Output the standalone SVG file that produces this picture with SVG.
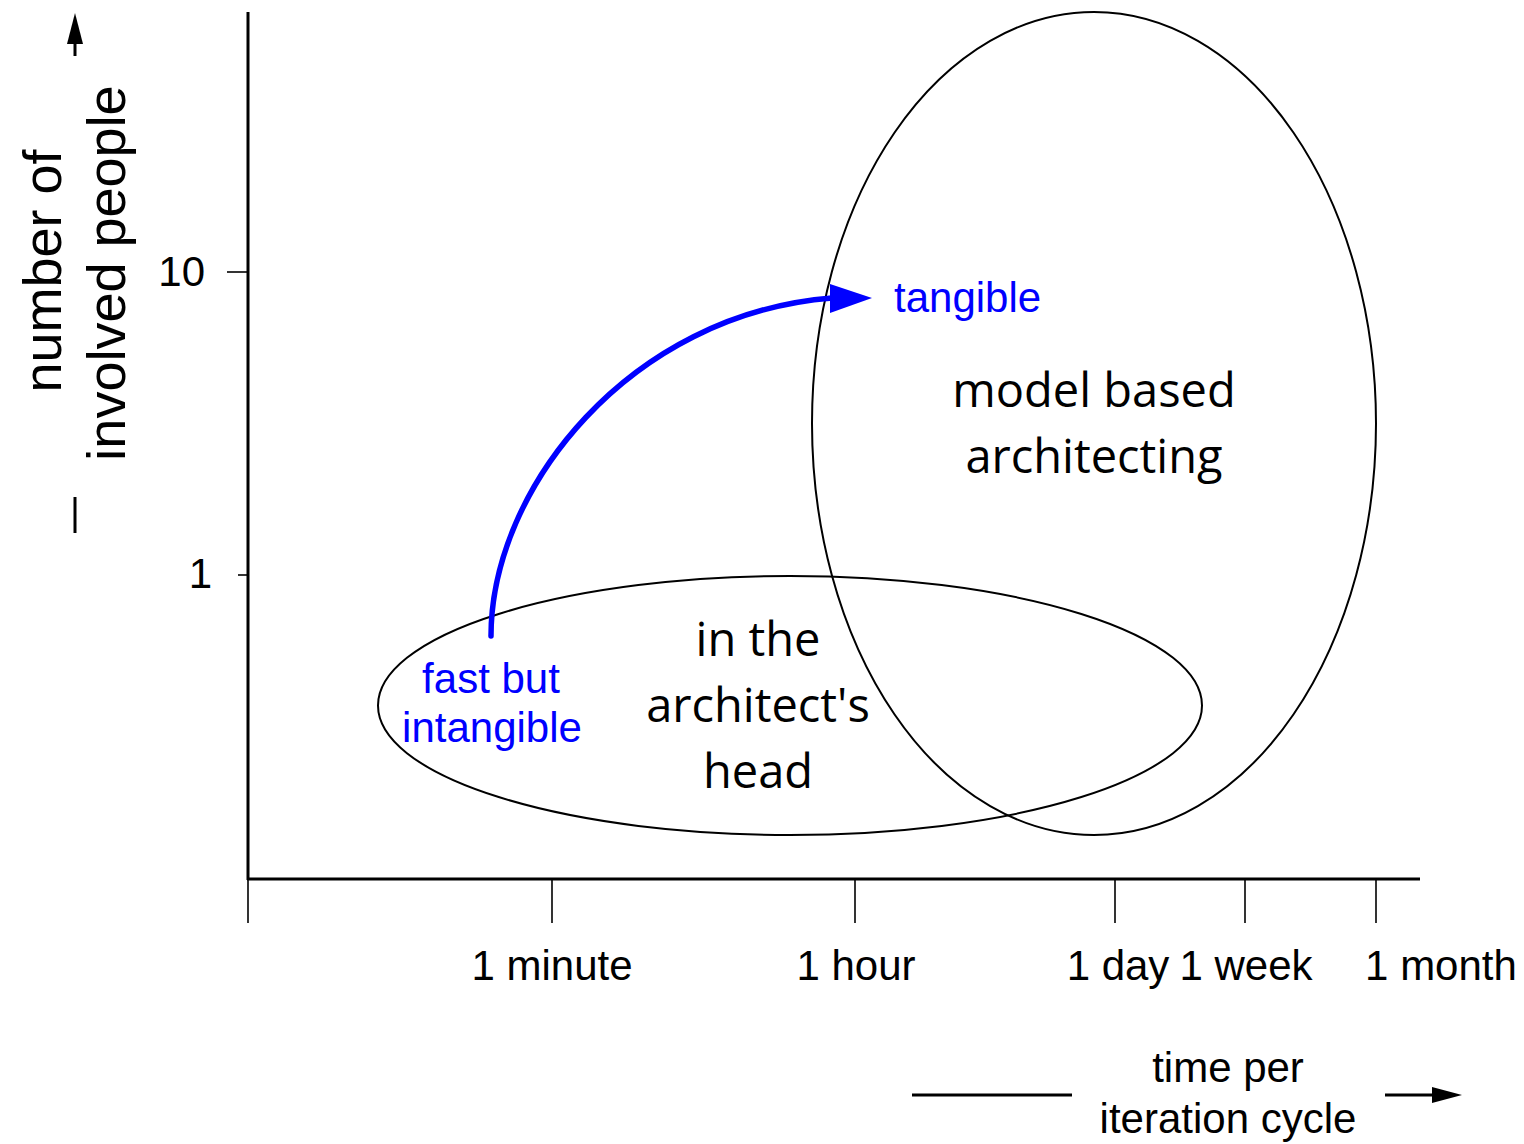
<svg xmlns="http://www.w3.org/2000/svg" width="1524" height="1144" viewBox="0 0 1524 1144">
<style>
.ax{stroke:#000;stroke-width:3;fill:none}
.tk{stroke:#000;stroke-width:1.6;fill:none}
.lab{font-family:"Liberation Sans",Arial,sans-serif;font-size:42px;fill:#000}
.ttl{font-family:"Liberation Sans",Arial,sans-serif;font-size:54px;fill:#000}
.blue{font-family:"Liberation Sans",Arial,sans-serif;font-size:42px;fill:#0000ff}
.cal{font-family:"Open Sans","Liberation Sans",sans-serif;font-size:47px;fill:#000}
.ell{fill:none;stroke:#000;stroke-width:2}
</style>
<rect width="1524" height="1144" fill="#fff"/>
<g id="axes">
<line class="ax" x1="248" y1="12" x2="248" y2="880"/>
<line class="ax" x1="247" y1="879" x2="1420" y2="879"/>
<line class="tk" x1="227" y1="272" x2="248" y2="272"/>
<line class="tk" x1="238" y1="575" x2="248" y2="575"/>
<line class="tk" x1="248" y1="879" x2="248" y2="923"/>
<line class="tk" x1="552" y1="879" x2="552" y2="923"/>
<line class="tk" x1="855" y1="879" x2="855" y2="923"/>
<line class="tk" x1="1115" y1="879" x2="1115" y2="923"/>
<line class="tk" x1="1245" y1="879" x2="1245" y2="923"/>
<line class="tk" x1="1376" y1="879" x2="1376" y2="923"/>
<text class="lab" x="205" y="286" text-anchor="end">10</text>
<text class="lab" x="212" y="588" text-anchor="end">1</text>
<text class="lab" x="552" y="980" text-anchor="middle">1 minute</text>
<text class="lab" x="856" y="980" text-anchor="middle">1 hour</text>
<text class="lab" x="1118" y="980" text-anchor="middle">1 day</text>
<text class="lab" x="1246" y="980" text-anchor="middle">1 week</text>
<text class="lab" x="1441" y="980" text-anchor="middle">1 month</text>
<text class="ttl" transform="translate(61,271) rotate(-90)" text-anchor="middle">number of</text>
<text class="ttl" transform="translate(125,273) rotate(-90)" text-anchor="middle">involved people</text>
<line class="ax" x1="75" y1="497" x2="75" y2="533"/>
<line class="ax" x1="75" y1="40" x2="75" y2="56"/>
<polygon points="75,13 67,44 83,44" fill="#000"/>
<text class="lab" x="1228" y="1082" text-anchor="middle">time per</text>
<text class="lab" x="1228" y="1133" text-anchor="middle">iteration cycle</text>
<line class="ax" x1="912" y1="1095" x2="1072" y2="1095"/>
<line class="ax" x1="1385" y1="1095" x2="1436" y2="1095"/>
<polygon points="1462,1095 1432,1087 1432,1103" fill="#000"/>
</g>
<g id="node-model-based">
<ellipse class="ell" cx="1094" cy="423.5" rx="282" ry="411.5"/>
<text class="cal" x="1094" y="407" text-anchor="middle">model based</text>
<text class="cal" x="1094" y="473" text-anchor="middle">architecting</text>
</g>
<g id="node-head">
<ellipse class="ell" cx="790" cy="705.5" rx="412" ry="129.5"/>
<text class="cal" x="758" y="656" text-anchor="middle">in the</text>
<text class="cal" x="758" y="722" text-anchor="middle">architect's</text>
<text class="cal" x="758" y="788" text-anchor="middle">head</text>
</g>
<g id="label-fast">
<text class="blue" x="491" y="693" text-anchor="middle">fast but</text>
<text class="blue" x="492" y="742" text-anchor="middle">intangible</text>
</g>
<g id="label-tangible">
<text class="blue" x="894" y="312">tangible</text>
</g>
<g id="connectors">
<path d="M491,636 C491,488 630,314 832,298" fill="none" stroke="#0000ff" stroke-width="5.5" stroke-linecap="round"/>
<polygon points="872,298 830,284 830,313" fill="#0000ff"/>
</g>
</svg>
